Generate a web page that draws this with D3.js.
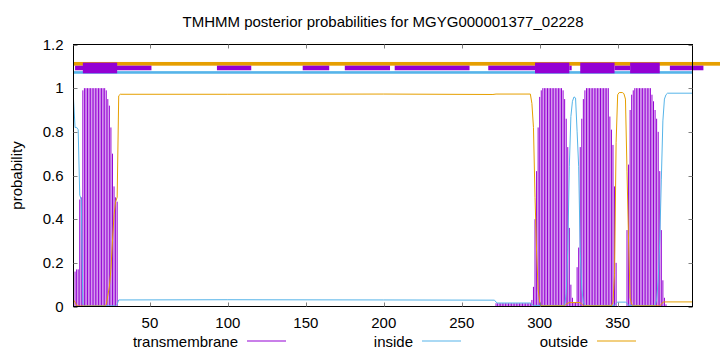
<!DOCTYPE html>
<html>
<head>
<meta charset="utf-8">
<script src="https://cdn.jsdelivr.net/npm/d3@7/dist/d3.min.js"></script>
<style>
  body { margin: 0; background: #fff; }
  svg text { font-family: "Liberation Sans", Arial, sans-serif; font-size: 15px; fill: #000; }
</style>
</head>
<body>
<div id="chart"></div>
<script>
// Chart text and axis ticks.
var title = "TMHMM posterior probabilities for MGYG000001377_02228";
var yLabel = "probability";
var seqLength = 398;
var xTicks = [50, 100, 150, 200, 250, 300, 350];
var yTicks = [0, 0.2, 0.4, 0.6, 0.8, 1, 1.2];
var legendNames = ["transmembrane", "inside", "outside"];

// Transmembrane posterior per residue, [residue, probability].
// Residues that are not listed are 0.
var transmembrane = [
  [1, 0.11], [2, 0.16], [3, 0.17], [4, 0.17], [5, 0.49], [6, 0.5], [7, 0.99],
  [8, 1], [9, 1], [10, 1], [11, 1], [12, 1], [13, 1], [14, 1], [15, 1],
  [16, 1], [17, 1], [18, 1], [19, 1], [20, 1], [21, 1], [22, 0.99], [23, 0.95],
  [24, 0.92], [25, 0.82], [26, 0.7], [27, 0.55], [28, 0.5], [29, 0.48],
  [272, 0.015], [273, 0.015], [274, 0.015], [275, 0.015], [276, 0.015], [277, 0.015],
  [278, 0.015], [279, 0.015], [280, 0.015], [281, 0.015], [282, 0.015], [283, 0.015],
  [284, 0.015], [285, 0.015], [286, 0.015], [287, 0.015], [288, 0.015], [289, 0.015],
  [290, 0.015], [291, 0.015], [292, 0.015], [293, 0.015], [294, 0.015],
  [295, 0.03], [296, 0.09], [297, 0.4], [298, 0.62], [299, 0.82], [300, 0.96], [301, 0.99],
  [302, 1], [303, 1], [304, 1], [305, 1], [306, 1], [307, 1], [308, 1], [309, 1],
  [310, 1], [311, 1], [312, 1], [313, 1], [314, 1], [315, 0.99], [316, 0.95],
  [317, 0.86], [318, 0.73], [319, 0.36], [320, 0.1], [321, 0.04], [322, 0.02], [323, 0.02],
  [324, 0.18], [325, 0.27], [326, 0.73], [327, 0.86], [328, 0.95], [329, 0.99],
  [330, 1], [331, 1], [332, 1], [333, 1], [334, 1], [335, 1], [336, 1], [337, 1],
  [338, 1], [339, 1], [340, 1], [341, 1], [342, 1], [343, 1], [344, 1],
  [345, 0.87], [346, 0.81], [347, 0.74], [348, 0.55], [349, 0.2],
  [356, 0.35], [357, 0.65], [358, 0.9], [359, 0.97], [360, 0.99],
  [361, 1], [362, 1], [363, 1], [364, 1], [365, 1], [366, 1], [367, 1], [368, 1],
  [369, 1], [370, 1], [371, 1], [372, 0.97], [373, 0.94], [374, 0.9], [375, 0.86],
  [376, 0.8], [377, 0.62], [378, 0.35], [379, 0.12], [380, 0.04], [381, 0.01]
];

// Inside curve, [residue, probability].
var inside = [
  [1, 0.95], [2, 0.82], [3, 0.82], [4, 0.81], [5, 0.51], [6, 0.49], [7, 0.01],
  [8, 0.003], [28, 0.003], [29, 0.01], [30, 0.03], [100, 0.031], [200, 0.03],
  [271, 0.029], [272, 0.02], [273, 0.016], [294, 0.016], [295, 0.01], [296, 0.005],
  [316, 0.005], [317, 0.06], [318, 0.26], [319, 0.64], [320, 0.87], [321, 0.94],
  [322, 0.96], [323, 0.955], [324, 0.8], [325, 0.64], [326, 0.25], [327, 0.08],
  [328, 0.02], [329, 0.005], [348, 0.005], [349, 0.015], [350, 0.02], [355, 0.02],
  [356, 0.015], [357, 0.005], [374, 0.005], [375, 0.03], [376, 0.12], [377, 0.3],
  [378, 0.58], [379, 0.85], [380, 0.95], [381, 0.97], [382, 0.977], [398, 0.977]
];

// Outside curve, [residue, probability].
var outside = [
  [1, 0.03], [2, 0.02], [3, 0.005], [4, 0.002], [21, 0.002], [22, 0.01], [23, 0.05],
  [24, 0.09], [25, 0.17], [26, 0.3], [27, 0.42], [28, 0.48], [29, 0.5], [30, 0.965],
  [31, 0.972], [100, 0.972], [200, 0.973], [270, 0.971], [272, 0.973], [294, 0.973],
  [295, 0.93], [296, 0.82], [297, 0.5], [298, 0.25], [299, 0.08], [300, 0.02],
  [301, 0.003], [316, 0.003], [317, 0.01], [318, 0.015], [319, 0.018], [326, 0.018],
  [327, 0.01], [328, 0.003], [346, 0.003], [347, 0.02], [348, 0.15], [349, 0.75],
  [350, 0.97], [351, 0.98], [353, 0.98], [354, 0.975], [355, 0.95], [356, 0.62],
  [357, 0.3], [358, 0.04], [359, 0.01], [360, 0.003], [377, 0.003], [378, 0.01],
  [379, 0.02], [380, 0.021], [398, 0.021]
];

// Predicted topology bars along the top, [from, to] residue.
var outsideBar = [[1, 416]];
var insideBar = [[1, 398]];
var tmThinBars = [[2, 51], [93, 115], [148, 165], [175, 204], [207, 255],
  [267, 297], [319, 320.5], [348, 358], [383.5, 405]];
var tmThickBars = [[7, 29], [297, 319], [326, 348], [358, 377]];

// Layout and colours.
var width = 720,
    height = 352,
    plotLeft = 73.5,
    plotRight = 692.5,
    plotTop = 44.5,
    plotBottom = 306.5,
    tmColor = "#9400d3",
    insideColor = "#56b4e9",
    outsideColor = "#e69f00",
    tickLen = 4;

var legendItems = [
  { name: legendNames[0], color: tmColor },
  { name: legendNames[1], color: insideColor },
  { name: legendNames[2], color: outsideColor }
];

var svg = d3.select("#chart").append("svg")
  .attr("width", width)
  .attr("height", height);

var x = d3.scaleLinear().domain([1, seqLength]).range([plotLeft, plotRight]),
    y = d3.scaleLinear().domain([0, 1.2]).range([plotBottom, plotTop]);

// TM impulses.
svg.append("g")
  .selectAll("line")
  .data(transmembrane)
  .join("line")
    .attr("x1", function(d) { return x(d[0]); })
    .attr("x2", function(d) { return x(d[0]); })
    .attr("y1", y(0))
    .attr("y2", function(d) { return y(d[1]); })
    .attr("stroke", tmColor)
    .attr("stroke-width", 1);

var line = d3.line()
  .x(function(d) { return x(d[0]); })
  .y(function(d) { return y(d[1]); });

svg.append("path")
  .attr("d", line(inside))
  .attr("fill", "none")
  .attr("stroke", insideColor)
  .attr("stroke-width", 1);

svg.append("path")
  .attr("d", line(outside))
  .attr("fill", "none")
  .attr("stroke", outsideColor)
  .attr("stroke-width", 1);

// Topology bars (bands given in probability units).
function bars(data, y0, y1, color) {
  svg.append("g")
    .selectAll("rect")
    .data(data)
    .join("rect")
      .attr("x", function(d) { return x(d[0]); })
      .attr("width", function(d) { return x(d[1]) - x(d[0]); })
      .attr("y", y(y1))
      .attr("height", y(y0) - y(y1))
      .attr("fill", color);
}
bars(outsideBar, 1.103, 1.12, outsideColor);
bars(insideBar, 1.066, 1.078, insideColor);
bars(tmThinBars, 1.082, 1.103, tmColor);
bars(tmThickBars, 1.068, 1.117, tmColor);

// Border.
svg.append("rect")
  .attr("x", plotLeft)
  .attr("y", plotTop)
  .attr("width", plotRight - plotLeft)
  .attr("height", plotBottom - plotTop)
  .attr("fill", "none")
  .attr("stroke", "#000")
  .attr("stroke-width", 1);

// Ticks, mirrored on all four sides.
var ticks = svg.append("g").attr("stroke", "#808080").attr("stroke-width", 1);
xTicks.forEach(function(t) {
  var px = Math.round(x(t)) + 0.5;
  ticks.append("line").attr("x1", px).attr("x2", px).attr("y1", plotBottom).attr("y2", plotBottom - tickLen);
  ticks.append("line").attr("x1", px).attr("x2", px).attr("y1", plotTop).attr("y2", plotTop + tickLen);
});
yTicks.forEach(function(t) {
  var py = Math.round(y(t)) + 0.5;
  ticks.append("line").attr("x1", plotLeft).attr("x2", plotLeft + tickLen).attr("y1", py).attr("y2", py);
  ticks.append("line").attr("x1", plotRight).attr("x2", plotRight - tickLen).attr("y1", py).attr("y2", py);
});

// Tick labels.
svg.append("g")
  .selectAll("text")
  .data(xTicks)
  .join("text")
    .attr("x", function(d) { return x(d); })
    .attr("y", 327.5)
    .attr("text-anchor", "middle")
    .text(function(d) { return d; });

svg.append("g")
  .selectAll("text")
  .data(yTicks)
  .join("text")
    .attr("x", 63.5)
    .attr("y", function(d) { return y(d) + 5; })
    .attr("text-anchor", "end")
    .text(function(d) { return d; });

// Title and y label.
svg.append("text")
  .attr("x", (plotLeft + plotRight) / 2)
  .attr("y", 27)
  .attr("text-anchor", "middle")
  .text(title);

svg.append("text")
  .attr("transform", "translate(22," + (plotTop + plotBottom) / 2 + ") rotate(-90)")
  .attr("text-anchor", "middle")
  .text(yLabel);

// Legend: right-justified names, each followed by a line sample.
var legend = svg.append("g")
  .selectAll("g")
  .data(legendItems)
  .join("g")
    .attr("transform", function(d, i) { return "translate(" + (247 + i * 175) + ",0)"; });
legend.append("text")
  .attr("x", -9)
  .attr("y", 346.5)
  .attr("text-anchor", "end")
  .text(function(d) { return d.name; });
legend.append("line")
  .attr("x1", 0)
  .attr("x2", 39)
  .attr("y1", 341)
  .attr("y2", 341)
  .attr("stroke", function(d) { return d.color; })
  .attr("stroke-width", 1.2);
</script>
</body>
</html>
